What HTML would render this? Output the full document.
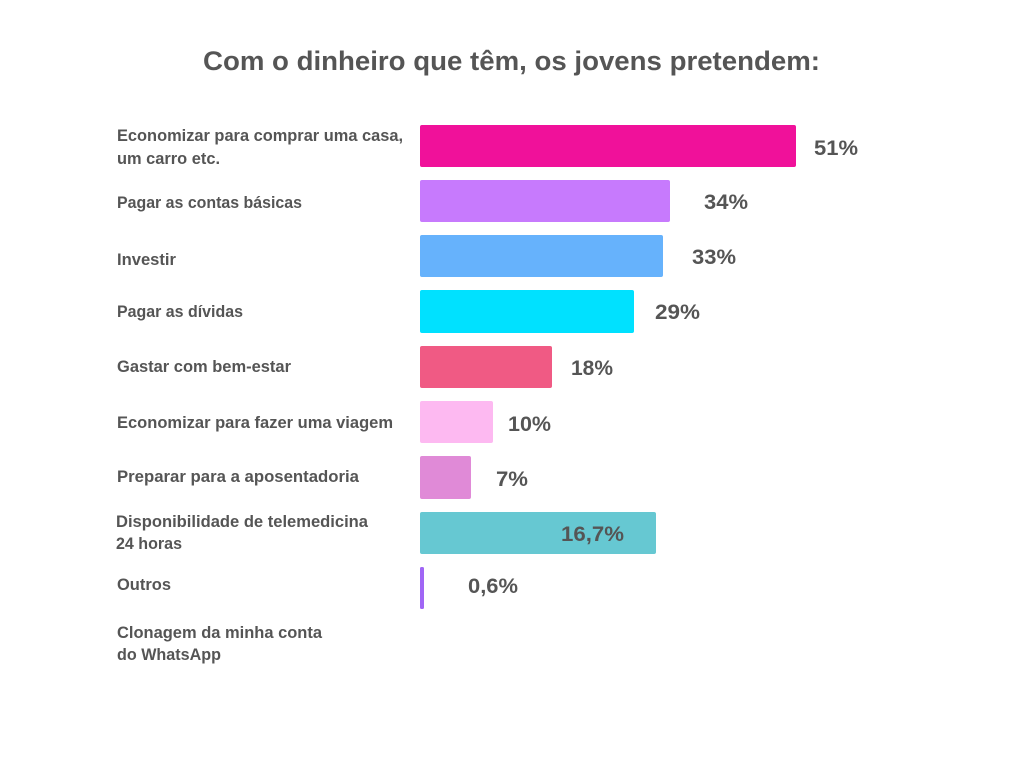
<!DOCTYPE html>
<html>
<head>
<meta charset="utf-8">
<style>
  html, body { margin:0; padding:0; background:#ffffff; }
  svg { display:block; }
  text { font-family: "Liberation Sans", "DejaVu Sans", sans-serif; font-weight:bold; fill:#555555; }
</style>
</head>
<body>
<svg width="1024" height="768" viewBox="0 0 1024 768" xmlns="http://www.w3.org/2000/svg">
  <rect x="0" y="0" width="1024" height="768" fill="#ffffff"/>
  <text x="203" y="70" font-size="27" textLength="617" lengthAdjust="spacingAndGlyphs">Com o dinheiro que têm, os jovens pretendem:</text>

  <!-- category labels -->
  <g font-size="17">
    <text x="117" y="141" textLength="286" lengthAdjust="spacingAndGlyphs">Economizar para comprar uma casa,</text>
    <text x="117" y="164" textLength="103" lengthAdjust="spacingAndGlyphs">um carro etc.</text>
    <text x="117" y="208" textLength="185" lengthAdjust="spacingAndGlyphs">Pagar as contas básicas</text>
    <text x="117" y="265" textLength="59" lengthAdjust="spacingAndGlyphs">Investir</text>
    <text x="117" y="317" textLength="126" lengthAdjust="spacingAndGlyphs">Pagar as dívidas</text>
    <text x="117" y="372" textLength="174" lengthAdjust="spacingAndGlyphs">Gastar com bem-estar</text>
    <text x="117" y="428" textLength="276" lengthAdjust="spacingAndGlyphs">Economizar para fazer uma viagem</text>
    <text x="117" y="482" textLength="242" lengthAdjust="spacingAndGlyphs">Preparar para a aposentadoria</text>
    <text x="116" y="527" textLength="252" lengthAdjust="spacingAndGlyphs">Disponibilidade de telemedicina</text>
    <text x="116" y="549" textLength="66" lengthAdjust="spacingAndGlyphs">24 horas</text>
    <text x="117" y="590" textLength="54" lengthAdjust="spacingAndGlyphs">Outros</text>
    <text x="117" y="638" textLength="205" lengthAdjust="spacingAndGlyphs">Clonagem da minha conta</text>
    <text x="117" y="660" textLength="104" lengthAdjust="spacingAndGlyphs">do WhatsApp</text>
  </g>

  <!-- bars -->
  <rect x="420" y="125" width="376" height="42" rx="2" fill="#F0119A"/>
  <rect x="420" y="180" width="250" height="42" rx="2" fill="#C77AFD"/>
  <rect x="420" y="235" width="243" height="42" rx="2" fill="#66B2FC"/>
  <rect x="420" y="290" width="214" height="43" rx="2" fill="#00E1FF"/>
  <rect x="420" y="346" width="132" height="42" rx="2" fill="#F05A84"/>
  <rect x="420" y="401" width="73" height="42" rx="2" fill="#FDB9F1"/>
  <rect x="420" y="456" width="51" height="43" rx="2" fill="#E08AD7"/>
  <rect x="420" y="512" width="236" height="42" rx="2" fill="#66C8D2"/>
  <rect x="420" y="567" width="4" height="42" rx="1.5" fill="#A066F5"/>

  <!-- value labels -->
  <g font-size="21.5">
    <text x="814" y="155" textLength="44" lengthAdjust="spacingAndGlyphs">51%</text>
    <text x="704" y="209" textLength="44" lengthAdjust="spacingAndGlyphs">34%</text>
    <text x="692" y="264" textLength="44" lengthAdjust="spacingAndGlyphs">33%</text>
    <text x="655" y="319" textLength="45" lengthAdjust="spacingAndGlyphs">29%</text>
    <text x="571" y="375" textLength="42" lengthAdjust="spacingAndGlyphs">18%</text>
    <text x="508" y="431" textLength="43" lengthAdjust="spacingAndGlyphs">10%</text>
    <text x="496" y="486" textLength="32" lengthAdjust="spacingAndGlyphs">7%</text>
    <text x="561" y="541" textLength="63" lengthAdjust="spacingAndGlyphs">16,7%</text>
    <text x="468" y="593" textLength="50" lengthAdjust="spacingAndGlyphs">0,6%</text>
  </g>
</svg>
</body>
</html>
